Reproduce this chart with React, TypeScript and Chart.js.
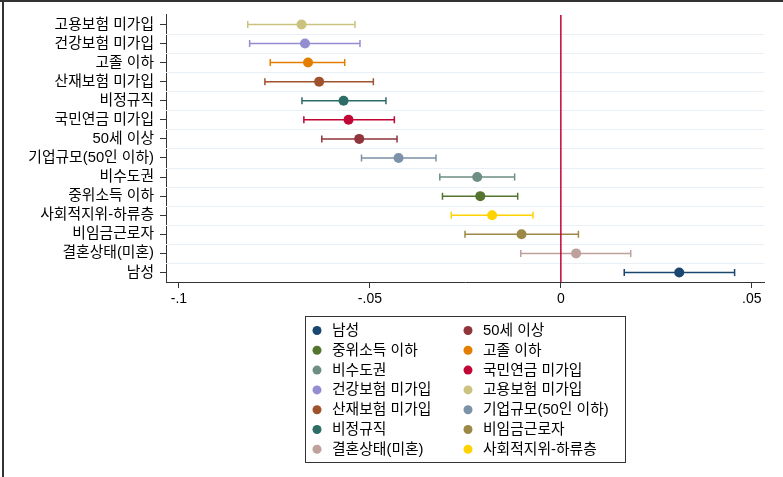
import React, { useEffect, useRef } from "react";
import { Chart, registerables } from "chart.js";

Chart.register(...registerables);

// Y-axis categories, top to bottom
const categories = [
  "고용보험 미가입",
  "건강보험 미가입",
  "고졸 이하",
  "산재보험 미가입",
  "비정규직",
  "국민연금 미가입",
  "50세 이상",
  "기업규모(50인 이하)",
  "비수도권",
  "중위소득 이하",
  "사회적지위-하류층",
  "비임금근로자",
  "결혼상태(미혼)",
  "남성",
];

// Series in legend order
const seriesNames = [
  "남성",
  "50세 이상",
  "중위소득 이하",
  "고졸 이하",
  "비수도권",
  "국민연금 미가입",
  "건강보험 미가입",
  "고용보험 미가입",
  "산재보험 미가입",
  "기업규모(50인 이하)",
  "비정규직",
  "비임금근로자",
  "결혼상태(미혼)",
  "사회적지위-하류층",
];

const coefficients = [
  0.031, -0.0528, -0.0211, -0.0662, -0.0219, -0.0556, -0.067, -0.0679, -0.0633,
  -0.0425, -0.0569, -0.0103, 0.004, -0.018,
];

const lowerCI = [
  0.0166, -0.0626, -0.031, -0.0761, -0.0317, -0.0673, -0.0815, -0.082, -0.0775,
  -0.0522, -0.0678, -0.0251, -0.0105, -0.0287,
];

const upperCI = [
  0.0455, -0.0429, -0.0113, -0.0566, -0.0121, -0.0436, -0.0526, -0.0539,
  -0.0491, -0.0327, -0.0458, 0.0046, 0.0183, -0.0073,
];

const xTickValues = [-0.1, -0.05, 0, 0.05];
const xTickLabels = ["-.1", "-.05", "0", ".05"];

const seriesColors = [
  "#1a476f",
  "#90353b",
  "#55752f",
  "#e37e00",
  "#6e8e84",
  "#c10534",
  "#938dd2",
  "#cac27e",
  "#a0522d",
  "#7b92a8",
  "#2d6d66",
  "#9c8847",
  "#bfa19c",
  "#ffd200",
];

const FONT = '"Liberation Sans", "Noto Sans CJK KR", Arial, sans-serif';
const AXIS_COLOR = "#333333";

const separatorPlugin = {
  id: "separators",
  beforeDatasetsDraw(chart: any) {
    const { ctx, chartArea } = chart;
    const y = chart.scales.y;
    ctx.save();
    ctx.strokeStyle = "rgb(232,240,246)";
    ctx.lineWidth = 1;
    for (let k = 1; k < categories.length; k++) {
      const py = Math.round((y.getPixelForValue(k - 1) + y.getPixelForValue(k)) / 2) + 0.5;
      ctx.beginPath();
      ctx.moveTo(chartArea.left, py);
      ctx.lineTo(chartArea.right, py);
      ctx.stroke();
    }
    ctx.restore();
  },
};

const ciPlugin = {
  id: "ci",
  beforeDatasetsDraw(chart: any) {
    const { ctx } = chart;
    const xs = chart.scales.x;
    ctx.save();
    chart.data.datasets.forEach((ds: any, i: number) => {
      const meta = chart.getDatasetMeta(i);
      const pt = meta.data[0];
      if (!pt) return;
      const py = pt.y;
      const x1 = xs.getPixelForValue(lowerCI[i]);
      const x2 = xs.getPixelForValue(upperCI[i]);
      ctx.strokeStyle = seriesColors[i];
      ctx.lineWidth = 1.5;
      ctx.beginPath();
      ctx.moveTo(x1, py);
      ctx.lineTo(x2, py);
      ctx.moveTo(x1, py - 3.5);
      ctx.lineTo(x1, py + 3.5);
      ctx.moveTo(x2, py - 3.5);
      ctx.lineTo(x2, py + 3.5);
      ctx.stroke();
    });
    ctx.restore();
  },
};

const zeroLinePlugin = {
  id: "zeroLine",
  afterDatasetsDraw(chart: any) {
    const { ctx, chartArea } = chart;
    const x0 = chart.scales.x.getPixelForValue(0);
    ctx.save();
    ctx.strokeStyle = "#c10534";
    ctx.lineWidth = 1.5;
    ctx.beginPath();
    ctx.moveTo(x0, chartArea.top);
    ctx.lineTo(x0, chartArea.bottom);
    ctx.stroke();
    ctx.restore();
  },
};

const legendBoxPlugin = {
  id: "legendBox",
  afterDraw(chart: any) {
    const { ctx, chartArea } = chart;
    const boxW = 320;
    const boxH = 146;
    const cx = (chartArea.left + chartArea.right) / 2;
    const left = Math.round(cx - boxW / 2) + 0.5;
    const top = Math.round(chartArea.bottom + 34) + 0.5;
    ctx.save();
    ctx.strokeStyle = AXIS_COLOR;
    ctx.lineWidth = 1;
    ctx.strokeRect(left, top, boxW, boxH);
    ctx.font = `14.8px ${FONT}`;
    ctx.textBaseline = "middle";
    ctx.textAlign = "left";
    seriesNames.forEach((name, i) => {
      const row = Math.floor(i / 2);
      const col = i % 2;
      const ry = top + 14 + row * 19.8;
      const mx = left + 11.5 + col * 151;
      ctx.fillStyle = seriesColors[i];
      ctx.beginPath();
      ctx.arc(mx, ry, 4.5, 0, Math.PI * 2);
      ctx.fill();
      ctx.fillStyle = "#000000";
      ctx.fillText(name, mx + 15, ry + 0.5);
    });
    ctx.restore();
  },
};

const framePlugin = {
  id: "frame",
  afterDraw(chart: any) {
    const { ctx, width, height } = chart;
    ctx.save();
    ctx.fillStyle = "#333333";
    ctx.fillRect(0, 0, width, 2);
    ctx.fillRect(2, 0, 2, height);
    ctx.restore();
  },
};

export default function App() {
  const canvasRef = useRef<HTMLCanvasElement | null>(null);

  useEffect(() => {
    if (!canvasRef.current) return;
    const datasets = seriesNames.map((name, i) => ({
      label: name,
      data: [{ x: coefficients[i], y: name }],
      backgroundColor: seriesColors[i],
      borderColor: seriesColors[i],
      borderWidth: 0,
      pointRadius: 5,
      pointHoverRadius: 5,
      showLine: false,
    }));

    const chart = new Chart(canvasRef.current, {
      type: "scatter",
      data: { datasets: datasets as any },
      plugins: [separatorPlugin, ciPlugin, zeroLinePlugin, legendBoxPlugin, framePlugin],
      options: {
        responsive: false,
        animation: false,
        events: [],
        layout: { padding: { left: 0, right: 19, top: 13, bottom: 0 } },
        plugins: {
          legend: { display: false },
          tooltip: { enabled: false },
        },
        scales: {
          x: {
            type: "linear",
            min: -0.1034,
            max: 0.0532,
            afterBuildTicks(scale: any) {
              scale.ticks = xTickValues.map((v) => ({ value: v }));
            },
            afterFit(scale: any) {
              scale.height = 195;
            },
            grid: {
              drawOnChartArea: false,
              drawTicks: true,
              tickLength: 6,
              color: AXIS_COLOR,
            },
            border: { display: true, color: AXIS_COLOR, width: 1 },
            ticks: {
              padding: 3,
              autoSkip: false,
              color: "#000000",
              font: { family: FONT, size: 14 },
              maxRotation: 0,
              callback: (v: any) => {
                const idx = xTickValues.findIndex((t) => Math.abs(t - Number(v)) < 1e-9);
                return idx >= 0 ? xTickLabels[idx] : "";
              },
            },
          },
          y: {
            type: "category",
            labels: categories,
            offset: true,
            afterFit(scale: any) {
              scale.width = 166;
            },
            grid: {
              drawOnChartArea: false,
              drawTicks: true,
              tickLength: 6,
              color: AXIS_COLOR,
            },
            border: { display: true, color: AXIS_COLOR, width: 1 },
            ticks: {
              padding: 6,
              autoSkip: false,
              color: "#000000",
              font: { family: FONT, size: 14.8 },
            },
          },
        },
      } as any,
    });
    return () => chart.destroy();
  }, []);

  return (
    <div
      style={{
        position: "fixed",
        left: 0,
        top: 0,
        width: 783,
        height: 477,
        background: "#ffffff",
      }}
    >
      <canvas ref={canvasRef} width={783} height={477} style={{ display: "block" }} />
    </div>
  );
}
